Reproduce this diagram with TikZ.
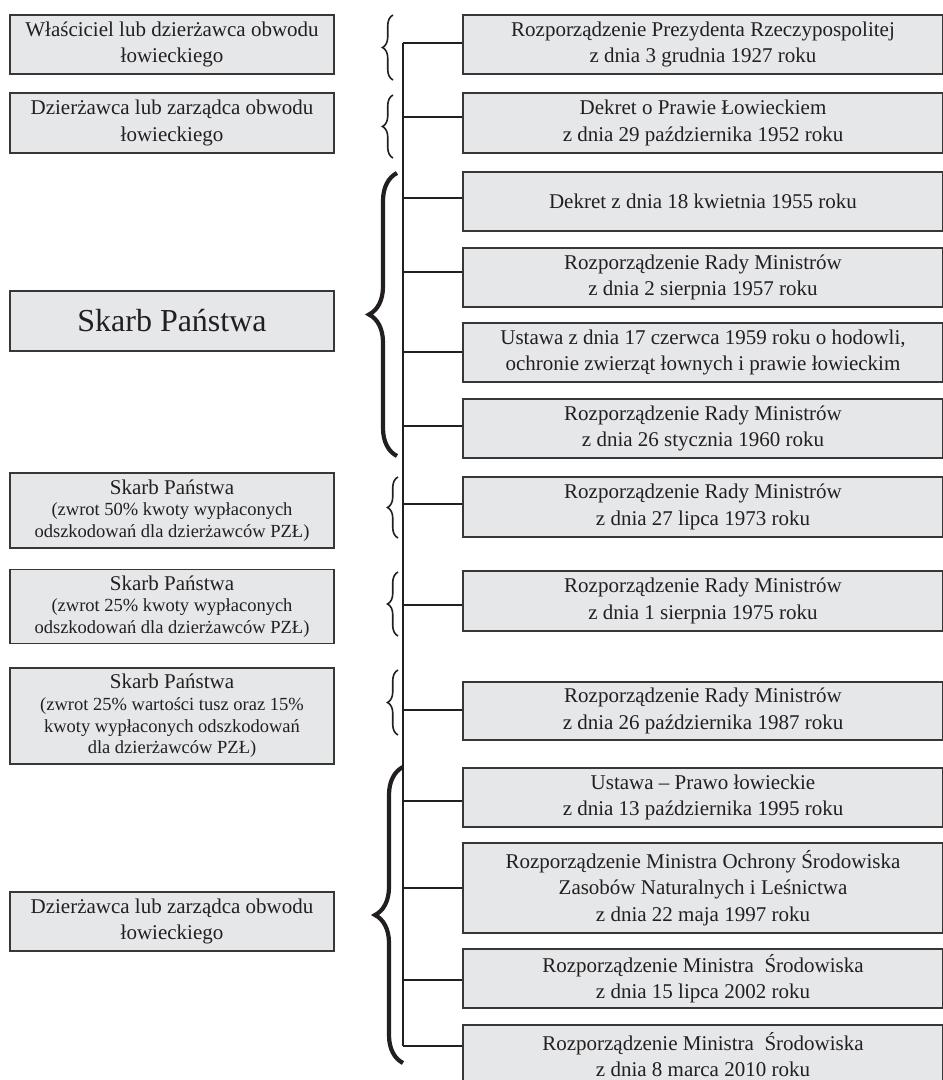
\documentclass[tikz,border=0pt]{standalone}
\usepackage{fontspec}
\setmainfont{Liberation Serif}
\usetikzlibrary{decorations.pathreplacing}
\definecolor{boxfill}{RGB}{230,231,232}
\definecolor{boxline}{RGB}{55,55,55}
\definecolor{ink}{RGB}{35,31,32}
\newcommand{\headline}[1]{{\fontsize{21}{21.7}\selectfont #1}}
\begin{document}
\begin{tikzpicture}[x=1pt,y=-1pt,
  basebox/.style={draw=boxline, fill=boxfill, line width=1.1pt, inner sep=0pt, align=center, text=ink},
  lbox/.style={basebox, minimum width=324pt, font=\fontsize{21}{26.5}\selectfont},
  lboxsmall/.style={basebox, minimum width=324pt, font=\fontsize{18.5}{21.7}\selectfont},
  lboxbig/.style={basebox, minimum width=324pt, font=\fontsize{32}{38}\selectfont},
  rbox/.style={basebox, minimum width=480pt, font=\fontsize{21}{26.5}\selectfont},
  conn/.style={draw=ink, line width=2pt},
  smallbrace/.style={draw=ink, line width=1.6pt, decorate, decoration={brace, amplitude=10.5pt}},
  bigbrace/.style={draw=ink, line width=4.2pt, decorate, decoration={brace, amplitude=28pt}}]
\clip (0,0) rectangle (943,1080);

% left boxes
\node[lbox, minimum height=59pt] (L1) at (172,44.5) {Właściciel lub dzierżawca obwodu\\łowieckiego};
\node[lbox, minimum height=60pt] (L2) at (172,123) {Dzierżawca lub zarządca obwodu\\łowieckiego};
\node[lboxbig, minimum height=60pt] (L3) at (172,321) {Skarb Państwa};
\node[lboxsmall, minimum height=75pt] (L4) at (172,510.5) {\headline{Skarb Państwa}\\(zwrot 50\% kwoty wypłaconych\\odszkodowań dla dzierżawców PZŁ)};
\node[lboxsmall, minimum height=74pt] (L5) at (172,606.5) {\headline{Skarb Państwa}\\(zwrot 25\% kwoty wypłaconych\\odszkodowań dla dzierżawców PZŁ)};
\node[lboxsmall, minimum height=96pt] (L6) at (172,716) {\headline{Skarb Państwa}\\(zwrot 25\% wartości tusz oraz 15\%\\kwoty wypłaconych odszkodowań\\dla dzierżawców PZŁ)};
\node[lbox, minimum height=59pt] (L7) at (172,921.5) {Dzierżawca lub zarządca obwodu\\łowieckiego};

% right boxes
\node[rbox, minimum height=59pt] (R1) at (703,44.5) {Rozporządzenie Prezydenta Rzeczypospolitej\\z dnia 3 grudnia 1927 roku};
\node[rbox, minimum height=60pt] (R2) at (703,123) {Dekret o Prawie Łowieckiem\\z dnia 29 października 1952 roku};
\node[rbox, minimum height=59pt] (R3) at (703,201.5) {Dekret z dnia 18 kwietnia 1955 roku};
\node[rbox, minimum height=59pt] (R4) at (703,277.5) {Rozporządzenie Rady Ministrów\\z dnia 2 sierpnia 1957 roku};
\node[rbox, minimum height=59pt] (R5) at (703,352.5) {Ustawa z dnia 17 czerwca 1959 roku o hodowli,\\ochronie zwierząt łownych i prawie łowieckim};
\node[rbox, minimum height=59pt] (R6) at (703,428.5) {Rozporządzenie Rady Ministrów\\z dnia 26 stycznia 1960 roku};
\node[rbox, minimum height=60pt] (R7) at (703,507) {Rozporządzenie Rady Ministrów\\z dnia 27 lipca 1973 roku};
\node[rbox, minimum height=60pt] (R8) at (703,601) {Rozporządzenie Rady Ministrów\\z dnia 1 sierpnia 1975 roku};
\node[rbox, minimum height=58pt] (R9) at (703,711) {Rozporządzenie Rady Ministrów\\z dnia 26 października 1987 roku};
\node[rbox, minimum height=59pt] (R10) at (703,797.5) {Ustawa – Prawo łowieckie\\z dnia 13 października 1995 roku};
\node[rbox, minimum height=90pt] (R11) at (703,888) {Rozporządzenie Ministra Ochrony Środowiska\\Zasobów Naturalnych i Leśnictwa\\z dnia 22 maja 1997 roku};
\node[rbox, minimum height=59pt] (R12) at (703,978.5) {Rozporządzenie Ministra~ Środowiska\\z dnia 15 lipca 2002 roku};
\node[rbox, minimum height=59pt] (R13) at (703,1054.5) {Rozporządzenie Ministra~ Środowiska\\z dnia 8 marca 2010 roku};

% trunk and connectors
\coordinate (t1) at (403,43);
\coordinate (t2) at (403,117);
\coordinate (t3) at (403,198);
\coordinate (t4) at (403,272);
\coordinate (t5) at (403,352);
\coordinate (t6) at (403,426);
\coordinate (t7) at (403,504);
\coordinate (t8) at (403,605);
\coordinate (t9) at (403,710);
\coordinate (t10) at (403,801);
\coordinate (t11) at (403,888);
\coordinate (t12) at (403,980);
\coordinate (t13) at (403,1046);
\draw[conn] (t1) -- (t13);
\foreach \i in {1,...,13} {
  \draw[conn] (t\i) -- (t\i -| R\i.west);
}

% braces
\draw[smallbrace] (393,80) -- (393,15);
\draw[smallbrace] (393,158) -- (393,95);
\draw[bigbrace] (397,456) -- (397,173);
\draw[smallbrace] (398,538) -- (398,477);
\draw[smallbrace] (398,636) -- (398,572);
\draw[smallbrace] (398,735) -- (398,670);
\draw[bigbrace] (403,1063) -- (403,767);
\end{tikzpicture}
\end{document}
